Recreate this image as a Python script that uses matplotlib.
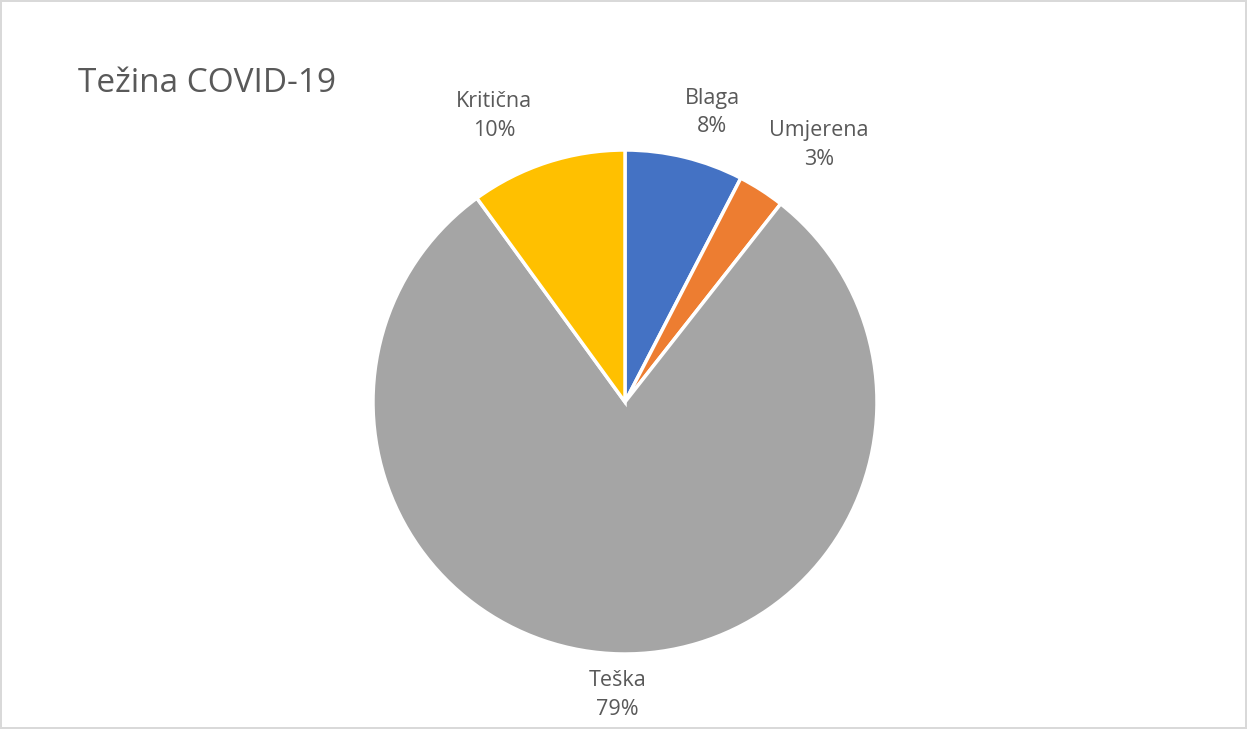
import matplotlib
matplotlib.use('Agg')
import matplotlib.pyplot as plt

plt.rcParams['font.family'] = ['Open Sans', 'DejaVu Sans']

CATEGORIES = ['Blaga', 'Umjerena', 'Teška', 'Kritična']
SHARES = [7.6, 3.0, 79.4, 10.0]
COLORS = ['#4472C4', '#ED7D31', '#A5A5A5', '#FFC000']
TEXT_COLOR = '#595959'
# where Excel put the data labels (pie radius = 1)
LABEL_XY = [(0.345, 1.15), (0.77, 1.02), (-0.03, -1.163), (-0.52, 1.135)]


def main():
    W, H = 1247, 729
    fig = plt.figure(figsize=(W / 100, H / 100), dpi=100)
    fig.patch.set_edgecolor('#d9d9d9')
    fig.patch.set_linewidth(1.5)

    cx, cy, r = 625, 402, 252
    ax = fig.add_axes([(cx - r) / W, (H - cy - r) / H, 2 * r / W, 2 * r / H])
    labels = [f'{c}\n{s:.0f}%' for c, s in zip(CATEGORIES, SHARES)]
    wedges, texts = ax.pie(SHARES, labels=labels, colors=COLORS, startangle=90,
                           counterclock=False,
                           wedgeprops=dict(edgecolor='white', linewidth=2.5),
                           textprops=dict(color=TEXT_COLOR, fontsize=15.5, linespacing=1.45))
    for t, xy in zip(texts, LABEL_XY):
        t.set_position(xy)
        t.set_horizontalalignment('center')
        t.set_verticalalignment('center')
    ax.set_xlim(-1, 1)
    ax.set_ylim(-1, 1)
    ax.set_aspect('equal')

    fig.text(78 / W, 1 - 84 / H, 'Težina COVID-19', fontsize=24, color=TEXT_COLOR,
             ha='left', va='center')
    fig.savefig('out.png', dpi=100, edgecolor=fig.get_edgecolor())


if __name__ == '__main__':
    main()
